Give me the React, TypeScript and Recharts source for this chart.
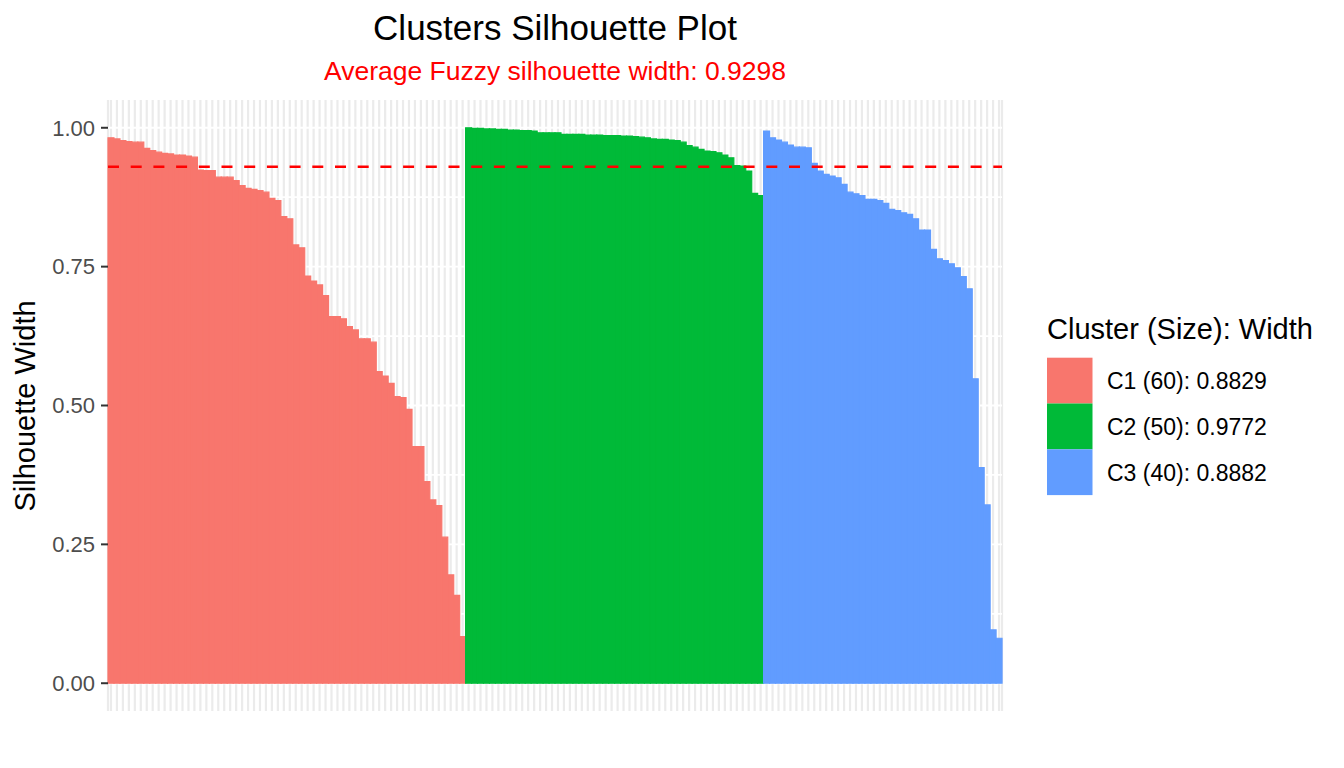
import { BarChart, Bar, XAxis, YAxis, CartesianGrid, ReferenceLine, Cell } from "recharts";

const clusterNames = ["C1", "C2", "C3"];
const clusterSizes = [60, 50, 40];
const clusterWidths = ["0.8829", "0.9772", "0.8882"];
const clusterColors = ["#F8766D", "#00BA38", "#619CFF"];

// silhouette width of every observation, sorted inside each cluster
const c1Widths = [
  0.982, 0.98, 0.977, 0.975, 0.974, 0.974, 0.963, 0.959, 0.956, 0.954,
  0.953, 0.951, 0.951, 0.949, 0.947, 0.924, 0.923, 0.923, 0.911, 0.911,
  0.911, 0.905, 0.896, 0.891, 0.889, 0.887, 0.884, 0.873, 0.869, 0.84,
  0.836, 0.789, 0.784, 0.733, 0.724, 0.717, 0.698, 0.66, 0.66, 0.656,
  0.642, 0.636, 0.62, 0.62, 0.614, 0.561, 0.553, 0.54, 0.516, 0.514,
  0.493, 0.426, 0.426, 0.363, 0.33, 0.32, 0.263, 0.195, 0.158, 0.084,
];
const c2Widths = [
  1.0, 0.999, 0.999, 0.998, 0.998, 0.997, 0.997, 0.996, 0.996, 0.995,
  0.995, 0.994, 0.991, 0.991, 0.991, 0.991, 0.988, 0.988, 0.988, 0.988,
  0.987, 0.987, 0.987, 0.986, 0.986, 0.986, 0.985, 0.985, 0.984, 0.983,
  0.982, 0.98, 0.979, 0.979, 0.978, 0.977, 0.974, 0.968, 0.965, 0.961,
  0.958, 0.957, 0.955, 0.951, 0.946, 0.932, 0.931, 0.922, 0.882, 0.878,
];
const c3Widths = [
  0.994, 0.982, 0.978, 0.974, 0.969, 0.965, 0.965, 0.964, 0.936, 0.922,
  0.916, 0.913, 0.91, 0.898, 0.884, 0.881, 0.878, 0.871, 0.871, 0.869,
  0.864, 0.853, 0.851, 0.847, 0.844, 0.836, 0.816, 0.816, 0.781, 0.764,
  0.761, 0.755, 0.748, 0.732, 0.71, 0.548, 0.388, 0.321, 0.096, 0.081,
];

const averageWidth = 0.9298;
const yTicks = [0, 0.25, 0.5, 0.75, 1];
const yGridValues = [0, 0.125, 0.25, 0.375, 0.5, 0.625, 0.75, 0.875, 1];

const data = [c1Widths, c2Widths, c3Widths].flatMap((widths, c) =>
  widths.map((value, i) => ({ id: `${clusterNames[c]}-${i + 1}`, value, cluster: c }))
);

const FONT = '"Liberation Sans", Arial, Helvetica, sans-serif';

// x labels are not shown, but the ticks must exist for the vertical grid
const NoTick = () => <g />;

export default function App() {
  return (
    <div
      style={{
        position: "absolute",
        left: 0,
        top: 0,
        width: 1344,
        height: 768,
        background: "#ffffff",
        fontFamily: FONT,
      }}
    >
      <BarChart
        width={1344}
        height={768}
        data={data}
        margin={{ top: 100, right: 342, bottom: 57, left: 48 }}
        barCategoryGap={0}
        barGap={0}
      >
        <CartesianGrid horizontal={false} vertical stroke="#EBEBEB" strokeWidth={2.2} />
        <CartesianGrid
          horizontal
          vertical={false}
          horizontalValues={yGridValues}
          stroke="#FFFFFF"
          strokeWidth={1.8}
        />
        <XAxis
          dataKey="id"
          type="category"
          interval={0}
          tick={<NoTick />}
          axisLine={false}
          tickLine={false}
          height={0}
        />
        <YAxis
          type="number"
          domain={[-0.05, 1.05]}
          ticks={yTicks}
          allowDataOverflow
          width={60}
          axisLine={false}
          tickLine={{ stroke: "#333333", strokeWidth: 2 }}
          tickSize={7}
          tickMargin={6}
          tickFormatter={(v: number) => v.toFixed(2)}
          tick={{ fill: "#4D4D4D", fontSize: 22, fontFamily: FONT }}
        />
        <Bar dataKey="value" isAnimationActive={false}>
          {data.map((d) => (
            <Cell
              key={d.id}
              fill={clusterColors[d.cluster]}
              stroke={clusterColors[d.cluster]}
              strokeWidth={1.2}
            />
          ))}
        </Bar>
        <ReferenceLine
          y={averageWidth}
          stroke="#FF0000"
          strokeWidth={2.3}
          strokeDasharray="11 11.7"
        />
      </BarChart>

      <svg
        width={1344}
        height={768}
        style={{ position: "absolute", left: 0, top: 0, pointerEvents: "none" }}
        fontFamily={FONT}
      >
        <text x={555} y={40} textAnchor="middle" fontSize={35} fill="#000000">
          Clusters Silhouette Plot
        </text>
        <text x={555} y={80} textAnchor="middle" fontSize={26.5} fill="#FF0000">
          {`Average Fuzzy silhouette width: ${averageWidth.toFixed(4)}`}
        </text>
        <text
          x={35}
          y={406}
          textAnchor="middle"
          fontSize={29}
          fill="#000000"
          transform="rotate(-90, 35, 406)"
        >
          Silhouette Width
        </text>

        <text x={1047} y={339} fontSize={29} fill="#000000">
          Cluster (Size): Width
        </text>
        {clusterNames.map((name, i) => (
          <g key={name}>
            <rect x={1047} y={357.7 + 45.8 * i} width={45.5} height={45.8} fill={clusterColors[i]} />
            <text x={1107} y={389 + 45.8 * i} fontSize={23} fill="#000000">
              {`${name} (${clusterSizes[i]}): ${clusterWidths[i]}`}
            </text>
          </g>
        ))}
      </svg>
    </div>
  );
}
